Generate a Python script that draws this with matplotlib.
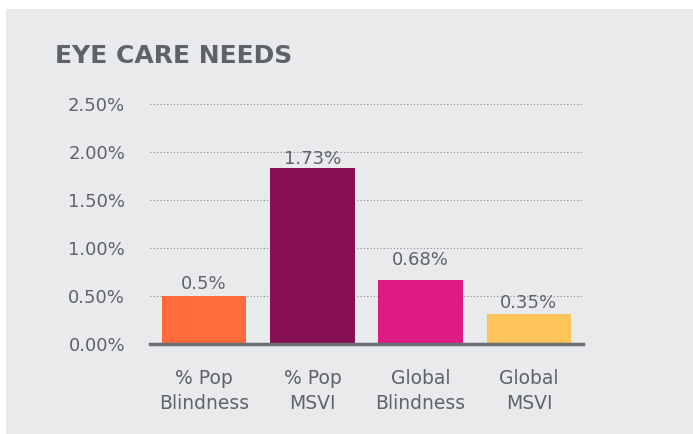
import matplotlib
matplotlib.use("Agg")
import matplotlib.pyplot as plt
from matplotlib.patches import Rectangle

title = "EYE CARE NEEDS"
categories = ["% Pop\nBlindness", "% Pop\nMSVI", "Global\nBlindness", "Global\nMSVI"]
values = [0.50, 1.83, 0.67, 0.31]
value_labels = ["0.5%", "1.73%", "0.68%", "0.35%"]
yticks = [0.0, 0.5, 1.0, 1.5, 2.0, 2.5]
ytick_labels = ["0.00%", "0.50%", "1.00%", "1.50%", "2.00%", "2.50%"]

colors = ["#ff6b3a", "#861052", "#de1a84", "#fdc45a"]
label_offsets = [5, 3.2, 10.4, 4.7]
text_color = "#5f6369"
bg = "#e9eaec"

W, H = 693, 434
fig = plt.figure(figsize=(W / 100, H / 100), dpi=100)
fig.patch.set_facecolor("white")
fig.add_artist(Rectangle((6 / W, 0), 1 - 6 / W, 1 - 9 / H, transform=fig.transFigure,
                         facecolor=bg, edgecolor="none", zorder=0))

plt.rcParams['font.family'] = ['DejaVu Sans']

ax = fig.add_axes([150 / W, 1 - 344 / H, (583 - 150) / W, (344 - 104) / H])
ax.set_facecolor("none")
x = list(range(len(categories)))
bars = ax.bar(x, values, width=0.78, color=colors, zorder=3)
ax.set_xlim(-0.5, 3.5)
ax.set_ylim(0, 2.5)
ax.set_yticks(yticks)
ax.set_yticklabels(ytick_labels)
ax.set_xticks(x)
ax.set_xticklabels(categories, linespacing=1.4)
ax.tick_params(axis="y", length=0, pad=18, labelsize=13, labelcolor=text_color)
ax.tick_params(axis="x", length=0, pad=18, labelsize=13.5, labelcolor=text_color)
for s in ["top", "right", "left"]:
    ax.spines[s].set_visible(False)
ax.spines["bottom"].set_color("#6b6e73")
ax.spines["bottom"].set_linewidth(2.5)
ax.spines["bottom"].set_zorder(4)
ax.yaxis.grid(True, linestyle=(0, (1, 2)), color="#8a8d92", linewidth=0.8, zorder=1)
ax.set_axisbelow(True)

for b, lab, off in zip(bars, value_labels, label_offsets):
    ax.annotate(lab, (b.get_x() + b.get_width() / 2, b.get_height()),
                xytext=(0, off), textcoords="offset points", ha="center", va="baseline",
                fontsize=13, color=text_color, zorder=5)

fig.text(55 / W, 1 - 56 / H, title, fontsize=18, fontweight="bold", color=text_color,
         ha="left", va="center")

fig.savefig("out.png", dpi=100, facecolor=fig.get_facecolor())
